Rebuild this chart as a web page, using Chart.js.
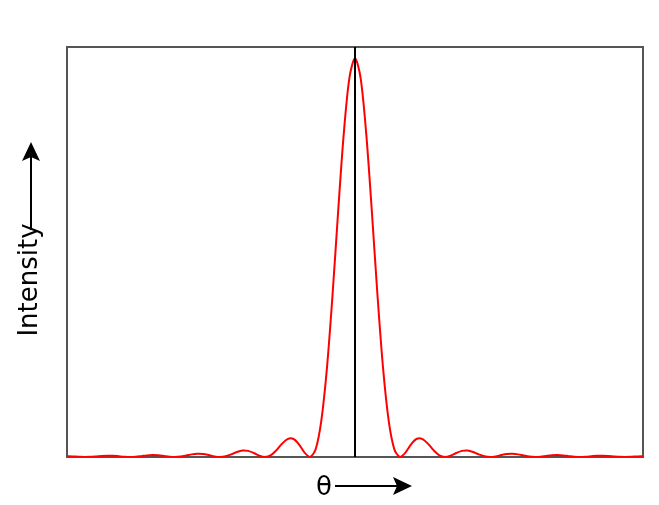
<!DOCTYPE html>
<html>
<head>
<meta charset="utf-8">
<script src="https://cdn.jsdelivr.net/npm/chart.js@4"></script>
<style>
  html, body { margin: 0; padding: 0; background: #fff; }
  #wrap { width: 659px; height: 505px; }
</style>
</head>
<body>
<div id="wrap"><canvas id="diffChart" width="659" height="505"></canvas></div>
<script>
// theta positions (in units of the first minimum) and relative intensity
const thetaRight = [0, 0.125, 0.25, 0.375, 0.5, 0.625, 0.75, 0.875,
    1, 1.125, 1.25, 1.375, 1.5, 1.625, 1.75, 1.875,
    2, 2.125, 2.25, 2.375, 2.5, 2.625, 2.75, 2.875,
    3, 3.125, 3.25, 3.375, 3.5, 3.625, 3.75, 3.875,
    4, 4.125, 4.25, 4.375, 4.5, 4.625, 4.75, 4.875,
    5, 5.125, 5.25, 5.375, 5.5, 5.625, 5.75, 5.875,
    6, 6.125, 6.25, 6.375, 6.5];
const intensityRight = [1, 0.95, 0.81, 0.615, 0.405, 0.221, 0.09, 0.019,
    0, 0.0117, 0.0324, 0.0457, 0.045, 0.0328, 0.0165, 0.0042,
    0, 0.0033, 0.01, 0.0153, 0.0162, 0.0126, 0.0067, 0.0018,
    0, 0.0015, 0.0048, 0.0076, 0.0083, 0.0066, 0.0036, 0.001,
    0, 0.0009, 0.0028, 0.0045, 0.005, 0.004, 0.0022, 0.0006,
    0, 0.0006, 0.0018, 0.003, 0.0033, 0.0027, 0.0015, 0.0004,
    0, 0.0004, 0.0013, 0.0021, 0.0024];
const xRange = [-6.4, 6.4];
const yRange = [0, 1.028];
const xLabel = 'θ';
const yLabel = 'Intensity';

// pattern is symmetric: mirror the right half
const points = [];
for (let i = thetaRight.length - 1; i > 0; i--) {
    points.push({ x: -thetaRight[i], y: intensityRight[i] });
}
for (let i = 0; i < thetaRight.length; i++) {
    points.push({ x: thetaRight[i], y: intensityRight[i] });
}

const decorPlugin = {
    id: 'decor',
    beforeDatasetsDraw(chart) {
        const { ctx, chartArea: a } = chart;
        ctx.save();
        ctx.strokeStyle = '#555';
        ctx.lineWidth = 2;
        ctx.strokeRect(a.left, a.top, a.right - a.left, a.bottom - a.top);
        ctx.restore();
    },
    afterDatasetsDraw(chart) {
        const { ctx, chartArea: a, scales } = chart;
        ctx.save();
        // center line
        const cx = scales.x.getPixelForValue(0);
        ctx.strokeStyle = '#000';
        ctx.lineWidth = 2;
        ctx.beginPath();
        ctx.moveTo(cx, a.top);
        ctx.lineTo(cx, a.bottom);
        ctx.stroke();

        ctx.fillStyle = '#000';
        ctx.font = '26px "DejaVu Sans"';

        // x label + arrow
        ctx.textAlign = 'center';
        ctx.textBaseline = 'middle';
        ctx.fillText(xLabel, 324, 488);
        ctx.beginPath();
        ctx.moveTo(335, 486);
        ctx.lineTo(400, 486);
        ctx.stroke();
        ctx.beginPath();
        ctx.moveTo(412, 486);
        ctx.lineTo(393, 477);
        ctx.lineTo(397, 486);
        ctx.lineTo(393, 495);
        ctx.closePath();
        ctx.fill();

        // y label + arrow
        ctx.save();
        ctx.translate(30, 280);
        ctx.rotate(-Math.PI / 2);
        ctx.fillText(yLabel, 0, 0);
        ctx.restore();
        ctx.beginPath();
        ctx.moveTo(31, 230);
        ctx.lineTo(31, 155);
        ctx.stroke();
        ctx.beginPath();
        ctx.moveTo(31, 142);
        ctx.lineTo(22, 161);
        ctx.lineTo(31, 157);
        ctx.lineTo(40, 161);
        ctx.closePath();
        ctx.fill();
        ctx.restore();
    }
};

const ctx = document.getElementById('diffChart').getContext('2d');
new Chart(ctx, {
    type: 'line',
    data: {
        datasets: [{
            data: points,
            borderColor: '#ff0000',
            borderWidth: 2,
            pointRadius: 0,
            fill: false,
            tension: 0.3
        }]
    },
    options: {
        responsive: false,
        animation: false,
        layout: { padding: { left: 67, right: 16, top: 47, bottom: 48 } },
        plugins: { legend: { display: false }, tooltip: { enabled: false } },
        scales: {
            x: { type: 'linear', min: xRange[0], max: xRange[1], display: false },
            y: { min: yRange[0], max: yRange[1], display: false }
        }
    },
    plugins: [decorPlugin]
});
</script>
</body>
</html>
